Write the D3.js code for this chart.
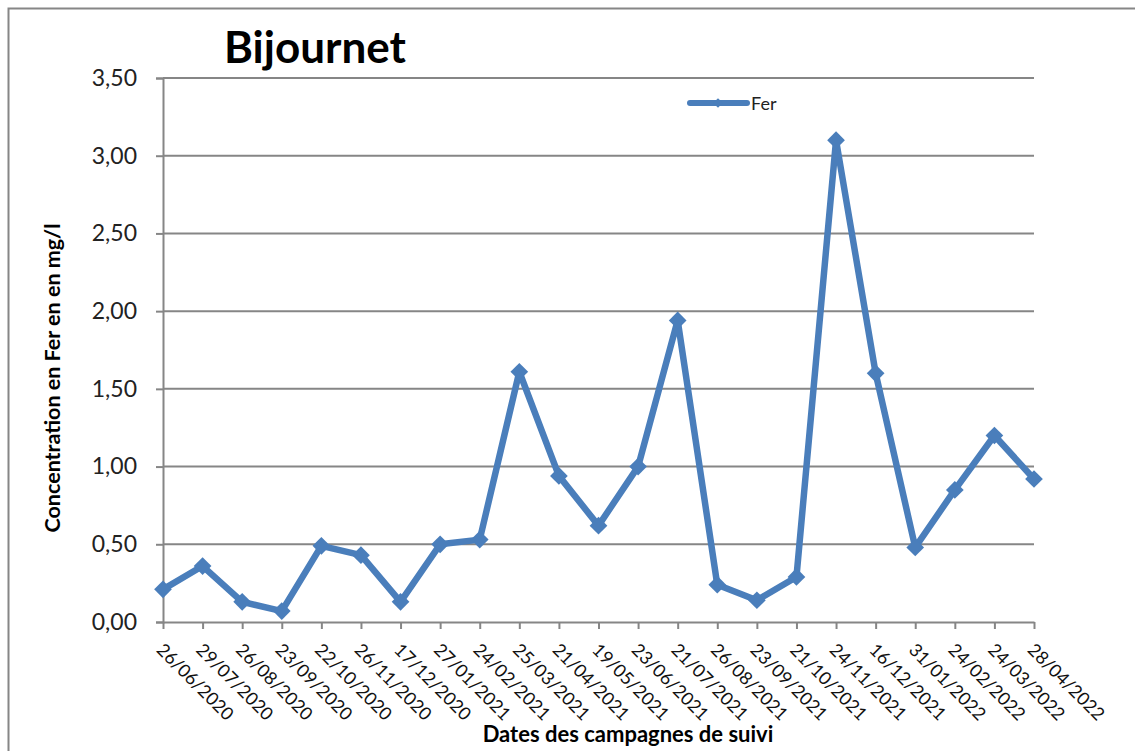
<!DOCTYPE html>
<html>
<head>
<meta charset="utf-8">
<script src="https://cdn.jsdelivr.net/npm/d3@7"></script>
<style>
  body { margin: 0; background: #fff; }
  svg text { font-family: Lato, "Open Sans", sans-serif; fill: #000; }
</style>
</head>
<body>
<div id="content"></div>
<script>
// campagnes de suivi
var dates = ["26/06/2020", "29/07/2020", "26/08/2020", "23/09/2020", "22/10/2020",
    "26/11/2020", "17/12/2020", "27/01/2021", "24/02/2021", "25/03/2021",
    "21/04/2021", "19/05/2021", "23/06/2021", "21/07/2021", "26/08/2021",
    "23/09/2021", "21/10/2021", "24/11/2021", "16/12/2021", "31/01/2022",
    "24/02/2022", "24/03/2022", "28/04/2022"];
var fer = [0.21, 0.36, 0.13, 0.07, 0.49, 0.43, 0.13, 0.50, 0.53, 1.61,
    0.94, 0.62, 1.00, 1.94, 0.24, 0.14, 0.29, 3.10, 1.60, 0.48,
    0.85, 1.20, 0.92];
var yTicks = [0, 0.5, 1, 1.5, 2, 2.5, 3, 3.5];

var W = 1135, H = 751;
var gauche = 163, droite = 1034, haut = 78, bas = 622;
var bleu = "#4a7ebb", gris = "#868686";

var svg = d3.select("#content").append("svg")
    .attr("width", W).attr("height", H);

// cadre
svg.append("rect")
    .attr("x", 8.5).attr("y", 8.5)
    .attr("width", W + 20).attr("height", H + 20)
    .style("fill", "none").style("stroke", gris).style("stroke-width", 2);

var x = d3.scalePoint().domain(dates).range([gauche, droite]);
var y = d3.scaleLinear().domain([0, 3.5]).range([bas, haut]);

var virgule = function(d) { return d3.format(".2f")(d).replace(".", ","); };

// grille
svg.append("g").selectAll("line")
    .data(yTicks.filter(function(d) { return d > 0; }))
    .enter().append("line")
        .attr("x1", gauche).attr("x2", droite)
        .attr("y1", function(d) { return y(d); })
        .attr("y2", function(d) { return y(d); })
        .style("stroke", gris).style("stroke-width", 2);

// axe y
var gy = svg.append("g").attr("transform", "translate(" + gauche + ",0)")
    .call(d3.axisLeft(y).tickValues(yTicks).tickFormat(virgule).tickSize(7).tickPadding(19));
gy.select(".domain").style("stroke", gris).style("stroke-width", 2);
gy.selectAll(".tick line").style("stroke", gris).style("stroke-width", 2);
gy.selectAll("text").style("font-size", "23px").style("fill", "#222");

// axe x
var gx = svg.append("g").attr("transform", "translate(0," + bas + ")")
    .call(d3.axisBottom(x).tickSizeInner(7).tickSizeOuter(0));
gx.select(".domain").style("stroke", gris).style("stroke-width", 2);
gx.selectAll(".tick line").style("stroke", gris).style("stroke-width", 2);
gx.selectAll("text")
    .style("font-size", "18px").style("fill", "#111")
    .attr("text-anchor", "start")
    .attr("dy", null)
    .attr("x", 0).attr("y", 0)
    .attr("transform", "translate(-8,29) rotate(45)");

// courbe
var ligne = d3.line()
    .x(function(d, i) { return x(dates[i]); })
    .y(function(d) { return y(d); });

svg.append("path")
    .datum(fer)
    .attr("d", ligne)
    .style("fill", "none").style("stroke", bleu)
    .style("stroke-width", 6.5).style("stroke-linejoin", "round");

var diamant = d3.symbol().type(d3.symbolDiamond2).size(200);
svg.append("g").selectAll("path")
    .data(fer)
    .enter().append("path")
        .attr("d", diamant)
        .attr("transform", function(d, i) { return "translate(" + x(dates[i]) + "," + y(d) + ")"; })
        .style("fill", bleu);

// légende
var leg = svg.append("g").attr("transform", "translate(690,103)");
leg.append("line").attr("x1", 0).attr("x2", 57)
    .style("stroke", bleu).style("stroke-width", 6).style("stroke-linecap", "round");
leg.append("path").attr("d", d3.symbol().type(d3.symbolDiamond2).size(60))
    .attr("transform", "translate(28,0)").style("fill", bleu);
leg.append("text").attr("x", 61).attr("y", 7).text("Fer")
    .style("font-size", "18px").style("fill", "#222");

// titres
svg.append("text").attr("x", 224).attr("y", 63).text("Bijournet")
    .style("font-size", "44px").style("font-weight", "bold");

svg.append("text")
    .attr("transform", "translate(60,378) rotate(-90)")
    .attr("text-anchor", "middle")
    .text("Concentration en Fer en en mg/l")
    .style("font-size", "21.5px").style("font-weight", "bold");

svg.append("text").attr("x", 628).attr("y", 742)
    .attr("text-anchor", "middle")
    .text("Dates des campagnes de suivi")
    .style("font-size", "22px").style("font-weight", "bold");
</script>
</body>
</html>
